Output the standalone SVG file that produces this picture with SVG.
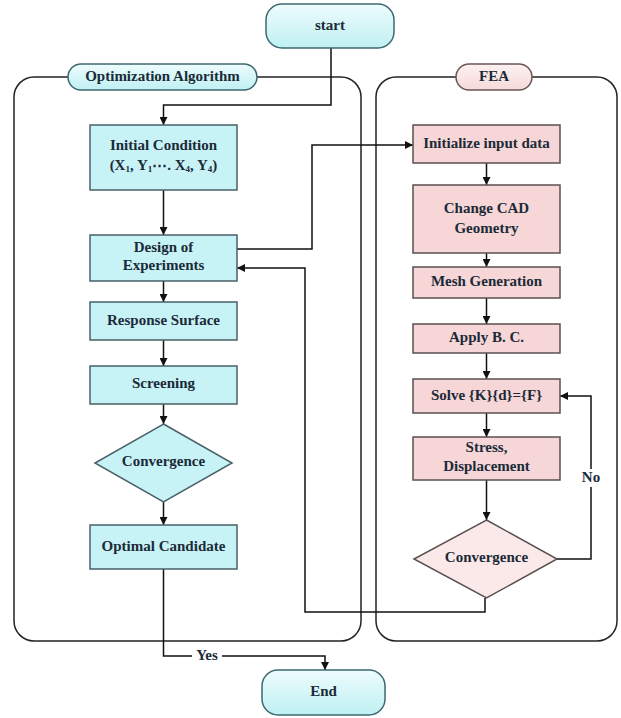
<svg xmlns="http://www.w3.org/2000/svg" width="621" height="718" viewBox="0 0 621 718">
<defs>
<linearGradient id="gPill" x1="0" y1="0" x2="0" y2="1">
<stop offset="0" stop-color="#eefcfd"/>
<stop offset="1" stop-color="#bff0f3"/>
</linearGradient>
<linearGradient id="gPink" x1="0" y1="0" x2="0" y2="1">
<stop offset="0" stop-color="#fdf1f1"/>
<stop offset="1" stop-color="#f6d9d9"/>
</linearGradient>
<marker id="arr" viewBox="0 0 10 10" refX="10" refY="5" markerWidth="8" markerHeight="8" markerUnits="userSpaceOnUse" orient="auto">
<path d="M0,0 L10,5 L0,10 z" fill="#111"/>
</marker>
<style>
.t{font-family:"Liberation Serif","Times New Roman",serif;font-weight:bold;font-size:15px;fill:#1b2a38;text-anchor:middle;dominant-baseline:middle}
.cy{fill:#c8f3f6;stroke:#4a6068;stroke-width:1.5}
.pk{fill:#f6d6d6;stroke:#5a5050;stroke-width:1.5}
.pkd{fill:#fbe8e8;stroke:#5a5050;stroke-width:1.5}
.pill{fill:url(#gPill);stroke:#3d6870;stroke-width:1.5}
.pillp{fill:url(#gPink);stroke:#6a5656;stroke-width:1.5}
.cont{fill:none;stroke:#222;stroke-width:1.5}
.c{fill:none;stroke:#111;stroke-width:1.5}
.lb{fill:#fff}
</style>
</defs>
<rect width="621" height="718" fill="#fff"/>

<g id="containers">
<rect class="cont" x="14" y="77" width="347" height="564" rx="20"/>
<rect class="cont" x="376" y="77" width="241" height="564" rx="20"/>
</g>

<g id="label-opt">
<rect class="pill" x="68" y="64" width="189" height="26" rx="13"/>
<text class="t" x="162.5" y="77.5">Optimization Algorithm</text>
</g>
<g id="label-fea">
<rect class="pillp" x="456" y="64" width="76" height="26" rx="13"/>
<text class="t" x="494" y="77.5">FEA</text>
</g>

<g id="connectors">
<path class="c" d="M331,48 V105 H163.5 V125" marker-end="url(#arr)"/>
<path class="c" d="M163.5,190 V235" marker-end="url(#arr)"/>
<path class="c" d="M237,249 H312 V145 H413" marker-end="url(#arr)"/>
<path class="c" d="M163.5,281 V302" marker-end="url(#arr)"/>
<path class="c" d="M163.5,340 V366" marker-end="url(#arr)"/>
<path class="c" d="M163.5,404 V424" marker-end="url(#arr)"/>
<path class="c" d="M163.5,502 V525" marker-end="url(#arr)"/>
<path class="c" d="M486.5,163 V185" marker-end="url(#arr)"/>
<path class="c" d="M486.5,253 V267" marker-end="url(#arr)"/>
<path class="c" d="M486.5,298 V324" marker-end="url(#arr)"/>
<path class="c" d="M486.5,353 V379" marker-end="url(#arr)"/>
<path class="c" d="M486.5,413 V437" marker-end="url(#arr)"/>
<path class="c" d="M486.5,480 V520" marker-end="url(#arr)"/>
<path class="c" d="M557,559 H591 V396 H560" marker-end="url(#arr)"/>
<path class="c" d="M485,598 V612 H305 V268 H237" marker-end="url(#arr)"/>
<path class="c" d="M163.5,569 V656 H325 V670" marker-end="url(#arr)"/>
<rect class="lb" x="580" y="469" width="22" height="18"/>
<text class="t" x="591" y="478.5">No</text>
<rect class="lb" x="192" y="648" width="30" height="16"/>
<text class="t" x="207" y="656.5">Yes</text>
</g>

<g id="start">
<rect class="pill" x="266" y="4" width="128" height="44" rx="16"/>
<text class="t" x="330" y="26.5">start</text>
</g>

<g id="initial-condition">
<rect class="cy" x="90" y="125" width="147" height="65"/>
<text class="t" x="163.5" y="147">Initial Condition</text>
<text class="t" x="163.5" y="167">(X<tspan font-size="9" dy="3">1</tspan><tspan dy="-3">, Y</tspan><tspan font-size="9" dy="3">1</tspan><tspan dy="-3">⋯. X</tspan><tspan font-size="9" dy="3">4</tspan><tspan dy="-3">, Y</tspan><tspan font-size="9" dy="3">4</tspan><tspan dy="-3">)</tspan></text>
</g>

<g id="design-of-experiments">
<rect class="cy" x="90" y="235" width="147" height="46"/>
<text class="t" x="163.5" y="248.5">Design of</text>
<text class="t" x="163.5" y="267">Experiments</text>
</g>

<g id="response-surface">
<rect class="cy" x="90" y="302" width="147" height="38"/>
<text class="t" x="163.5" y="321.5">Response Surface</text>
</g>

<g id="screening">
<rect class="cy" x="90" y="366" width="147" height="38"/>
<text class="t" x="163.5" y="385">Screening</text>
</g>

<g id="convergence-opt">
<polygon class="cy" points="163.5,424 232,463 163.5,502 95,463"/>
<text class="t" x="163.5" y="463">Convergence</text>
</g>

<g id="optimal-candidate">
<rect class="cy" x="90" y="525" width="147" height="44"/>
<text class="t" x="163.5" y="547.5">Optimal Candidate</text>
</g>

<g id="initialize-input">
<rect class="pk" x="413" y="125" width="147" height="38"/>
<text class="t" x="486.5" y="144.5">Initialize input data</text>
</g>

<g id="change-cad">
<rect class="pk" x="413" y="185" width="147" height="68"/>
<text class="t" x="486.5" y="210">Change CAD</text>
<text class="t" x="486.5" y="230">Geometry</text>
</g>

<g id="mesh-generation">
<rect class="pk" x="413" y="267" width="147" height="31"/>
<text class="t" x="486.5" y="283">Mesh Generation</text>
</g>

<g id="apply-bc">
<rect class="pk" x="413" y="324" width="147" height="29"/>
<text class="t" x="486.5" y="339">Apply B. C.</text>
</g>

<g id="solve">
<rect class="pk" x="413" y="379" width="147" height="34"/>
<text class="t" x="486.5" y="396.5">Solve {K}{d}={F}</text>
</g>

<g id="stress">
<rect class="pk" x="413" y="437" width="147" height="43"/>
<text class="t" x="486.5" y="448.5">Stress,</text>
<text class="t" x="486.5" y="467.5">Displacement</text>
</g>

<g id="convergence-fea">
<polygon class="pkd" points="486.5,520 557,559 486.5,598 414,559"/>
<text class="t" x="486.5" y="559">Convergence</text>
</g>

<g id="end">
<rect class="pill" x="262" y="670" width="123" height="45" rx="16"/>
<text class="t" x="323.5" y="692.5">End</text>
</g>
</svg>
